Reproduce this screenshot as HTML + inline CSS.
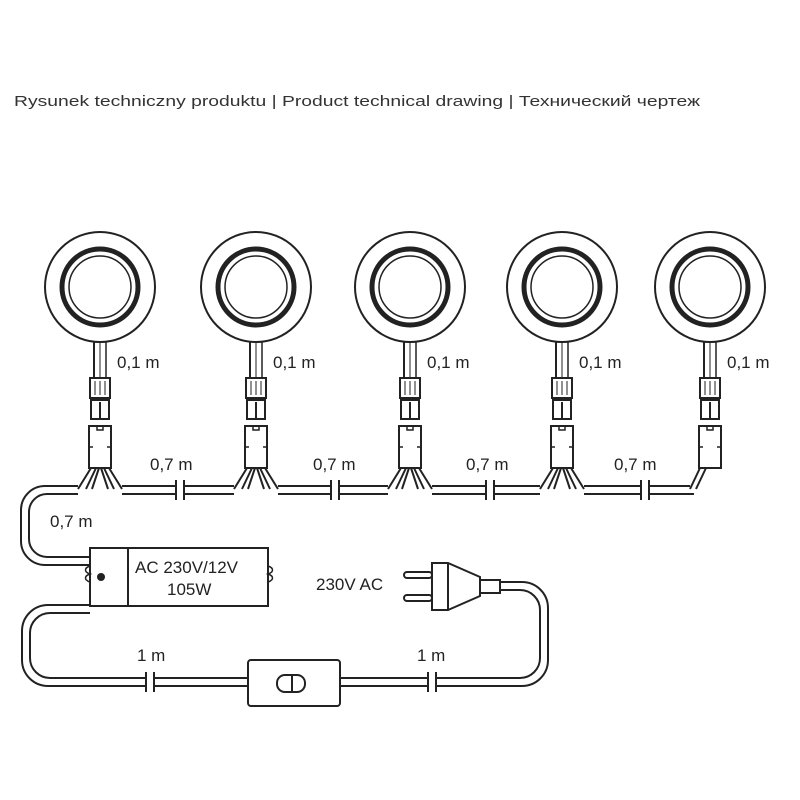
<!DOCTYPE html>
<html><head><meta charset="utf-8"><style>
body{margin:0;background:#fff;}
svg{display:block;font-family:"Liberation Sans","DejaVu Sans",sans-serif;}
</style></head><body>
<svg width="800" height="800" viewBox="0 0 800 800" xmlns="http://www.w3.org/2000/svg">
<rect width="800" height="800" fill="#fff"/>
<text x="14" y="106" font-size="15" fill="#333" textLength="686" lengthAdjust="spacingAndGlyphs">Rysunek techniczny produktu | Product technical drawing | Технический чертеж</text>
<defs>
<g id="lamp" fill="none" stroke="#222">
  <circle cx="0" cy="287" r="55" stroke-width="2"/>
  <circle cx="0" cy="287" r="38" stroke-width="5"/>
  <circle cx="0" cy="287" r="31" stroke-width="1.5"/>
  <line x1="-6" y1="342" x2="-6" y2="378" stroke-width="2"/>
  <line x1="6" y1="342" x2="6" y2="378" stroke-width="1.5"/>
  <line x1="0" y1="342" x2="0" y2="378" stroke-width="1"/>
  <rect x="-10" y="378" width="20" height="20" stroke-width="2" fill="#fff"/>
  <path d="M-5 381v14M0 381v14M5 381v14" stroke-width="1"/>
  <rect x="-9" y="400" width="18" height="19" stroke-width="2" fill="#fff"/>
  <line x1="0" y1="402" x2="0" y2="418" stroke-width="2"/>
  <rect x="-11" y="426" width="22" height="42" stroke-width="2" fill="#fff"/>
  <path d="M-3 426v4h6v-4M-11 447h4M11 447h-4" stroke-width="1.5"/>
</g>
<g id="splay" fill="none" stroke="#222" stroke-width="2">
  <path d="M-9 468 L-22 489 M-4 468 L-14 489 M-1 468 L-8 489"/>
  <path d="M9 468 L22 489 M4 468 L14 489 M1 468 L8 489"/>
</g>
</defs>
<use href="#lamp" x="100"/><use href="#lamp" x="256"/><use href="#lamp" x="410"/><use href="#lamp" x="562"/><use href="#lamp" x="710"/>
<use href="#splay" x="100"/><use href="#splay" x="256"/><use href="#splay" x="410"/><use href="#splay" x="562"/>
<path d="M700 468 L690 489 M706 468 L696 489" stroke="#222" stroke-width="2" fill="none"/>
<g fill="none" stroke="#222" stroke-width="2">
  <!-- main cable double lines -->
  <path d="M78 486 H45 A24 24 0 0 0 21 510 V541 A24 24 0 0 0 45 565 H90"/>
  <path d="M78 494 H47 A18 18 0 0 0 29 512 V539 A18 18 0 0 0 47 557 H90"/>
  <path d="M122 486H176M184 486H234M278 486H331M339 486H388M432 486H486M494 486H540M584 486H641M649 486H690"/>
  <path d="M122 494H176M184 494H234M278 494H331M339 494H388M432 494H486M494 494H540M584 494H641M649 494H694"/>
  <path d="M176 480v20M184 480v20M331 480v20M339 480v20M486 480v20M494 480v20M641 480v20M649 480v20"/>
  <!-- transformer -->
  <rect x="90" y="548" width="178" height="58" fill="#fff"/>
  <line x1="128" y1="548" x2="128" y2="606"/>
  <path d="M90 566c-6 2-6 6 0 8c-6 2-6 6 0 8" stroke-width="1.5"/>
  <path d="M268 566c6 2 6 6 0 8c6 2 6 6 0 8" stroke-width="1.5"/>
  <!-- bottom loop -->
  <path d="M90 605 H48 A26 26 0 0 0 22 631 V660 A26 26 0 0 0 48 686 H146M154 686H248"/>
  <path d="M90 613 H50 A20 20 0 0 0 30 633 V658 A20 20 0 0 0 50 678 H146M154 678H248"/>
  <path d="M146 672v20M154 672v20M428 672v20M436 672v20"/>
  <rect x="248" y="660" width="92" height="46" rx="3" fill="#fff"/>
  <rect x="277" y="675" width="28" height="17" rx="8"/>
  <line x1="292" y1="675" x2="292" y2="692"/>
  <path d="M340 678H428M436 678H520 A20 20 0 0 0 540 658 V610 A20 20 0 0 0 520 590 H500"/>
  <path d="M340 686H428M436 686H522 A26 26 0 0 0 548 660 V608 A26 26 0 0 0 522 582 H500"/>
  <!-- plug -->
  <rect x="480" y="580" width="20" height="13" fill="#fff"/>
  <path d="M432 563 H448 L480 577 V596 L448 610 H432 Z" fill="#fff"/>
  <line x1="448" y1="563" x2="448" y2="610"/>
  <rect x="404" y="572" width="28" height="6" rx="3" fill="#fff"/>
  <rect x="404" y="595" width="28" height="6" rx="3" fill="#fff"/>
</g>
<circle cx="101" cy="577" r="4" fill="#222"/>
<g font-size="17" fill="#222">
  <text x="117" y="368">0,1 m</text><text x="273" y="368">0,1 m</text><text x="427" y="368">0,1 m</text><text x="579" y="368">0,1 m</text><text x="727" y="368">0,1 m</text>
  <text x="150" y="470">0,7 m</text><text x="313" y="470">0,7 m</text><text x="466" y="470">0,7 m</text><text x="614" y="470">0,7 m</text>
  <text x="50" y="527">0,7 m</text>
  <text x="135" y="573">AC 230V/12V</text><text x="167" y="595">105W</text>
  <text x="316" y="590">230V AC</text>
  <text x="137" y="661">1 m</text><text x="417" y="661">1 m</text>
</g>
</svg>
</body></html>
